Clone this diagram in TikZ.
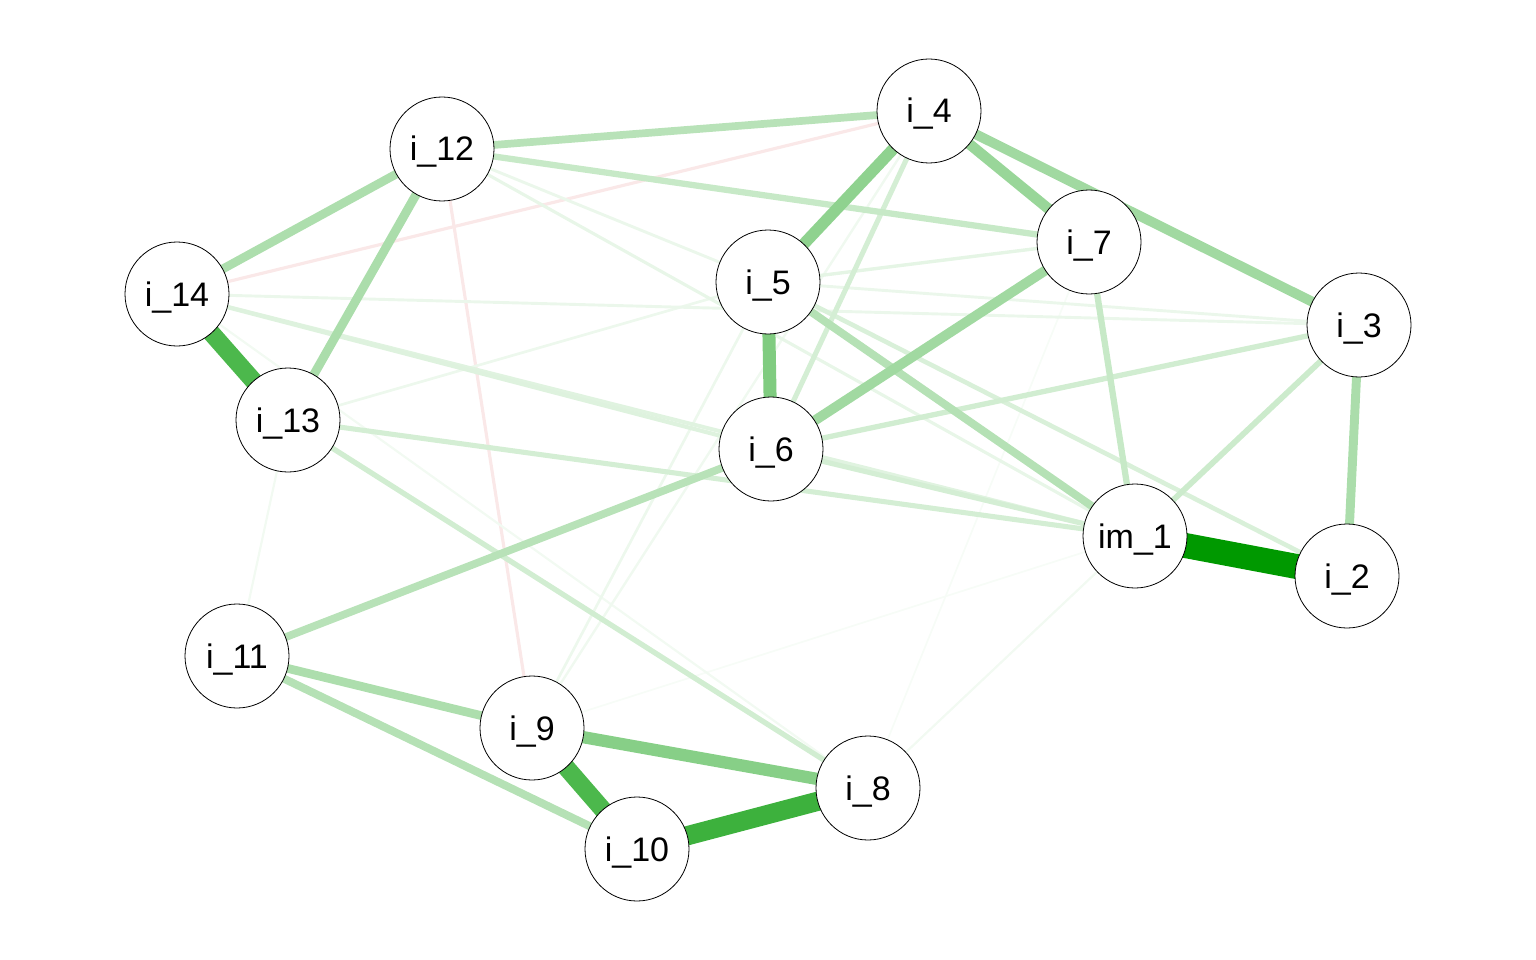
\documentclass[tikz,border=0pt]{standalone}
\usepackage{fontspec}
\setmainfont{Liberation Sans}
\usepackage{xcolor}
\usepackage{tikz}

\definecolor{posgreen}{RGB}{0,153,0}
\definecolor{negred}{RGB}{204,0,0}

\pgfdeclarelayer{edges}
\pgfsetlayers{edges,main}

\tikzset{
  item/.style={circle, draw=black, line width=0.8, fill=white, minimum size=104, inner sep=0pt,
    text height=24, text depth=0, font=\fontsize{34}{36}\selectfont},
}

\begin{document}
\begin{tikzpicture}[x=1pt,y=-1pt]

\useasboundingbox (0,0) rectangle (1536,960);

\node[item] (i4)  at ( 929,111) {i\_4};
\node[item] (i12) at ( 442,149) {i\_12};
\node[item] (i7)  at (1089,242) {i\_7};
\node[item] (i14) at ( 177,294) {i\_14};
\node[item] (i5)  at ( 768,282) {i\_5};
\node[item] (i3)  at (1359,325) {i\_3};
\node[item] (i13) at ( 288,420) {i\_13};
\node[item] (i6)  at ( 771,449) {i\_6};
\node[item] (im1) at (1135,536) {im\_1};
\node[item] (i2)  at (1347,576) {i\_2};
\node[item] (i11) at ( 237,656) {i\_11};
\node[item] (i9)  at ( 532,728) {i\_9};
\node[item] (i8)  at ( 868,788) {i\_8};
\node[item] (i10) at ( 637,849) {i\_10};

\begin{pgfonlayer}{edges}

% negative
\foreach \a/\b/\c in {i4/i14/9, i12/i9/9}{
	\draw[color=negred!\c!white, line width=1+0.24*\c] (\a.center)--(\b.center);
}

% positive, weakest first
\foreach \a/\b/\c in {i9/im1/3, i8/i7/3, i8/im1/5, i11/i13/5, i14/i8/5, i9/i4/6, i9/i5/7,
	i13/i5/7, i12/i5/8, i12/im1/9, i14/i3/8, i5/i3/8, i5/i7/10, i14/im1/12, i14/i6/13,
	i5/i2/15, i4/i6/17, i6/im1/17, i13/im1/17, i13/i8/18, i3/i6/18, i3/im1/20, i7/im1/22,
	i12/i7/22, i12/i4/28, i11/i6/28, i11/i10/29, i5/im1/29, i12/i14/32, i11/i9/32,
	i12/i13/33, i3/i2/33, i4/i3/37, i7/i6/37, i4/i7/40, i4/i5/44, i9/i8/47, i5/i6/50,
	i9/i10/70, i14/i13/70, i10/i8/76, im1/i2/100}{
	\draw[color=posgreen!\c!white, line width=1+0.24*\c] (\a.center)--(\b.center);
}

\end{pgfonlayer}

\end{tikzpicture}
\end{document}
